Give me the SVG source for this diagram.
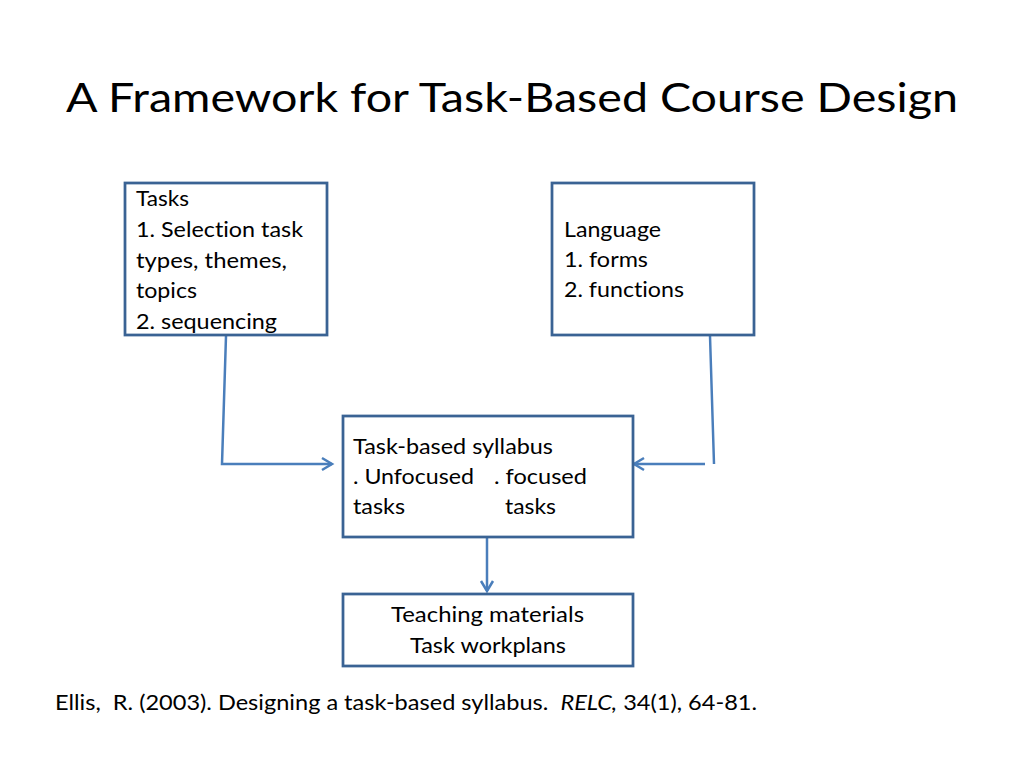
<svg xmlns="http://www.w3.org/2000/svg" width="1024" height="768" viewBox="0 0 1024 768">
<style>
text{font-family:Lato,"Liberation Sans",sans-serif;fill:#000;font-variant-ligatures:none;}
.t{font-size:21px;}
.box{fill:#fff;stroke:#3a6394;stroke-width:2.75;}
.con{fill:none;stroke:#4a7ebb;stroke-width:2.5;}
</style>
<defs>
<marker id="arr" markerUnits="userSpaceOnUse" markerWidth="16" markerHeight="16" viewBox="0 0 16 16" refX="13" refY="8" orient="auto">
<path d="M3,2 L13,8 L3,14" fill="none" stroke="#4a7ebb" stroke-width="2.5"/>
</marker>
</defs>
<rect width="1024" height="768" fill="#fff"/>
<text x="66" y="112" font-size="41" textLength="892" lengthAdjust="spacingAndGlyphs">A Framework for Task-Based Course Design</text>

<g id="connectors">
<path class="con" d="M226,336 L222,464 L332,464" marker-end="url(#arr)"/>
<path class="con" d="M710,336 L714,464"/>
<path class="con" d="M705,464 L634,464" marker-end="url(#arr)"/>
<path class="con" d="M487,538 L487,591" marker-end="url(#arr)"/>
</g>

<g id="tasks">
<rect class="box" x="125" y="183" width="202" height="152"/>
<text class="t" x="136" y="206" textLength="53" lengthAdjust="spacingAndGlyphs">Tasks</text>
<text class="t" x="136" y="237" textLength="167" lengthAdjust="spacingAndGlyphs">1. Selection task</text>
<text class="t" x="136" y="268" textLength="151" lengthAdjust="spacingAndGlyphs">types, themes,</text>
<text class="t" x="136" y="298" textLength="61" lengthAdjust="spacingAndGlyphs">topics</text>
<text class="t" x="136" y="329" textLength="141" lengthAdjust="spacingAndGlyphs">2. sequencing</text>
</g>

<g id="language">
<rect class="box" x="552" y="183" width="202" height="152"/>
<text class="t" x="564" y="237" textLength="97" lengthAdjust="spacingAndGlyphs">Language</text>
<text class="t" x="564" y="267" textLength="84" lengthAdjust="spacingAndGlyphs">1. forms</text>
<text class="t" x="564" y="297" textLength="120" lengthAdjust="spacingAndGlyphs">2. functions</text>
</g>

<g id="syllabus">
<rect class="box" x="343" y="416" width="290" height="121"/>
<text class="t" x="353" y="454" textLength="200" lengthAdjust="spacingAndGlyphs">Task-based syllabus</text>
<text class="t" x="353" y="484" textLength="121" lengthAdjust="spacingAndGlyphs">. Unfocused</text>
<text class="t" x="494" y="484" textLength="93" lengthAdjust="spacingAndGlyphs">. focused</text>
<text class="t" x="353" y="514" textLength="52" lengthAdjust="spacingAndGlyphs">tasks</text>
<text class="t" x="505" y="514" textLength="51" lengthAdjust="spacingAndGlyphs">tasks</text>
</g>

<g id="materials">
<rect class="box" x="343" y="594" width="290" height="72"/>
<text class="t" x="391" y="622" textLength="193" lengthAdjust="spacingAndGlyphs">Teaching materials</text>
<text class="t" x="410" y="653" textLength="156" lengthAdjust="spacingAndGlyphs">Task workplans</text>
</g>

<text class="t" x="55" y="710" textLength="702" lengthAdjust="spacingAndGlyphs" xml:space="preserve">Ellis,  R. (2003). Designing a task-based syllabus.  <tspan font-style="italic">RELC,</tspan> 34(1), 64-81.</text>
</svg>
